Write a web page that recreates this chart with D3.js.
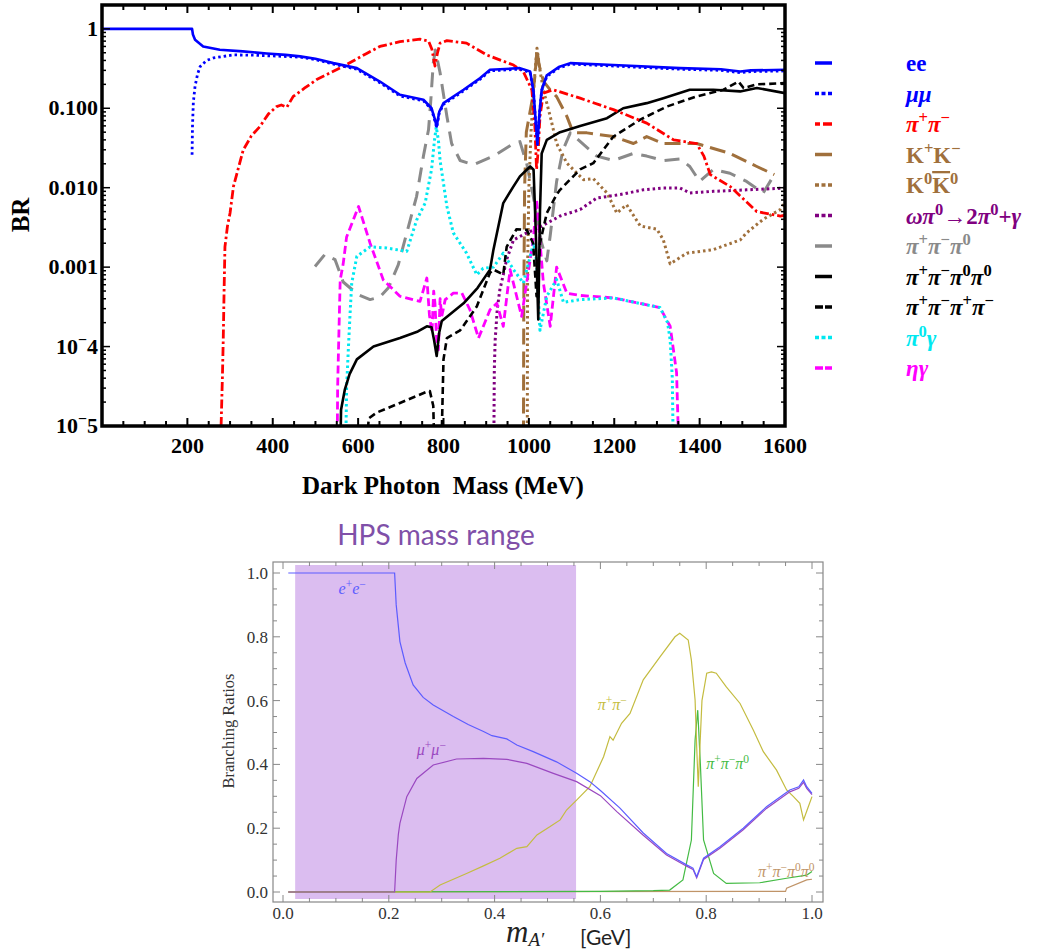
<!DOCTYPE html>
<html><head><meta charset="utf-8">
<script src="https://cdn.jsdelivr.net/npm/d3@7"></script>
<style>body{margin:0;background:#fff} svg{display:block}</style>
</head><body>
<svg id="c" width="1062" height="951"></svg>
<script>
// ---------------- TOP PANEL DATA (mass MeV, BR) ----------------
const topXTicks = [200,400,600,800,1000,1200,1400,1600];
const topYTicks = [1,0.1,0.01,0.001,1e-4,1e-5];
const topYTickLabels = ["1","0.100","0.010","0.001","10^−4","10^−5"];
const topXTitle = "Dark Photon  Mass (MeV)";
const topYTitle = "BR";

const eeTop = [[0,1],[211,1],[213,0.85],[218,0.73],[237,0.60],[276,0.545],[330,0.52],[386,0.49],[430,0.47],[464,0.45],[500,0.42],[542,0.37],[597,0.32],[651,0.217],[698,0.148],[753,0.128],[772,0.10],[779,0.075],[784,0.059],[790,0.09],[800,0.116],[847,0.171],[886,0.24],[909,0.305],[979,0.32],[1003,0.29],[1011,0.16],[1015,0.08],[1020,0.036],[1025,0.09],[1030,0.171],[1042,0.26],[1070,0.33],[1097,0.37],[1198,0.35],[1354,0.32],[1450,0.31],[1495,0.29],[1520,0.30],[1600,0.305]];
const mumuTop = [[211,0.026],[212,0.06],[214,0.12],[218,0.19],[224,0.27],[230,0.336],[245,0.40],[261,0.43],[308,0.47],[360,0.465],[425,0.45],[464,0.44],[500,0.41],[542,0.36],[597,0.31],[651,0.21],[698,0.143],[753,0.124],[772,0.097],[779,0.072],[784,0.057],[790,0.087],[800,0.112],[847,0.166],[886,0.233],[909,0.296],[979,0.311],[1003,0.282],[1011,0.155],[1015,0.078],[1020,0.035],[1025,0.087],[1030,0.166],[1042,0.252],[1070,0.32],[1097,0.36],[1198,0.34],[1354,0.31],[1450,0.30],[1495,0.28],[1520,0.29],[1600,0.295]];
const piPiTop = [[279,1e-5],[282,4e-5],[284,1.2e-4],[286,5e-4],[288,0.0018],[294,0.0033],[300,0.0048],[308,0.0104],[331,0.030],[350,0.045],[370,0.059],[390,0.085],[409,0.105],[420,0.11],[433,0.103],[448,0.141],[475,0.18],[503,0.23],[535,0.28],[565,0.336],[620,0.49],[651,0.60],[698,0.69],[745,0.74],[765,0.70],[773,0.55],[780,0.34],[786,0.50],[792,0.66],[808,0.71],[854,0.66],[901,0.47],[964,0.35],[987,0.29],[1007,0.17],[1014,0.06],[1018,0.017],[1022,0.03],[1026,0.079],[1034,0.155],[1057,0.171],[1120,0.134],[1198,0.096],[1276,0.065],[1339,0.040],[1393,0.036],[1410,0.025],[1425,0.0146],[1471,0.0104],[1534,0.0050],[1589,0.0044],[1600,0.0045]];
const kkTop = [[987,1e-6],[988,3e-4],[990,0.01],[994,0.05],[1000,0.075],[1008,0.13],[1014,0.25],[1019,0.54],[1024,0.35],[1034,0.22],[1050,0.17],[1065,0.14],[1089,0.079],[1104,0.049],[1136,0.049],[1198,0.044],[1245,0.036],[1276,0.044],[1315,0.036],[1393,0.036],[1471,0.027],[1534,0.0185],[1575,0.0146]];
const k0k0Top = [[996,1e-6],[997,1e-3],[1000,0.01],[1005,0.05],[1012,0.2],[1019,0.57],[1026,0.3],[1034,0.17],[1050,0.079],[1065,0.036],[1089,0.0204],[1128,0.0126],[1151,0.013],[1183,0.0086],[1206,0.0048],[1229,0.0061],[1261,0.0033],[1300,0.0030],[1315,0.0022],[1331,0.0011],[1370,0.0015],[1432,0.00166],[1495,0.0022],[1510,0.0027],[1549,0.004],[1589,0.0053],[1600,0.0065]];
const omegaPiTop = [[917,1e-6],[919,5e-5],[921,1.2e-4],[926,3e-4],[932,5.2e-4],[940,8e-4],[948,1.25e-3],[964,0.0022],[995,0.0027],[1026,0.0032],[1073,0.0044],[1120,0.0053],[1159,0.0074],[1214,0.0082],[1268,0.0094],[1315,0.0099],[1354,0.0099],[1377,0.0086],[1432,0.009],[1510,0.0094],[1600,0.0099]];
const piPiPi0Top = [[499,0.00102],[522,0.00144],[546,0.00124],[565,0.00065],[600,0.00045],[628,0.00039],[651,0.00042],[671,0.00055],[694,0.00107],[714,0.0027],[737,0.0078],[753,0.025],[765,0.054],[770,0.12],[776,0.37],[781,0.54],[792,0.28],[808,0.079],[819,0.036],[839,0.022],[870,0.0195],[917,0.025],[964,0.036],[979,0.038],[995,0.02],[1010,0.008],[1018,0.0044],[1030,0.002],[1042,0.0012],[1050,0.0025],[1065,0.012],[1080,0.03],[1097,0.049],[1159,0.025],[1198,0.022],[1245,0.027],[1276,0.025],[1315,0.022],[1354,0.023],[1377,0.0185],[1400,0.012],[1432,0.017],[1471,0.0152],[1510,0.012],[1549,0.0086],[1577,0.0152]];
const piPiPi0Pi0Top = [[556,1e-6],[560,1.6e-5],[569,2.9e-5],[580,4.5e-5],[597,6.9e-5],[636,1.0e-4],[698,1.28e-4],[740,1.55e-4],[761,1.8e-4],[772,1.75e-4],[778,1.2e-4],[784,7.6e-5],[790,1.5e-4],[796,2.1e-4],[847,3.5e-4],[880,5.5e-4],[909,9.3e-4],[917,1.66e-3],[932,0.004],[940,0.0064],[964,0.0104],[979,0.0139],[1003,0.0185],[1011,0.0168],[1016,0.003],[1022,2.2e-4],[1026,0.005],[1030,0.027],[1042,0.04],[1073,0.05],[1120,0.06],[1183,0.075],[1221,0.10],[1276,0.116],[1315,0.134],[1377,0.171],[1432,0.171],[1495,0.163],[1534,0.18],[1600,0.155]];
const piPiPiPiTop = [[608,1e-6],[625,1.25e-5],[643,1.47e-5],[698,1.95e-5],[761,2.7e-5],[768,2.75e-5],[776,1.8e-5],[782,1e-6],[792,1e-6],[800,6.9e-5],[808,1.28e-4],[839,1.6e-4],[878,3.2e-4],[909,8.5e-4],[917,9.3e-4],[940,8.1e-4],[948,1.8e-3],[971,3e-3],[995,2.95e-3],[1010,0.002],[1018,4.3e-4],[1026,0.002],[1042,4.8e-3],[1065,8.2e-3],[1073,9.4e-3],[1120,0.017],[1151,0.0204],[1198,0.044],[1261,0.072],[1323,0.105],[1393,0.141],[1456,0.171],[1491,0.217],[1503,0.18],[1534,0.20],[1600,0.207]];
const pi0GammaTop = [[569,1e-6],[573,3e-5],[577,9.1e-5],[581,2.5e-4],[585,6.3e-4],[597,1.37e-3],[628,1.8e-3],[667,1.74e-3],[714,1.58e-3],[737,3.9e-3],[757,6.4e-3],[772,0.017],[779,0.04],[783,0.058],[788,0.04],[792,0.022],[808,5.8e-3],[823,2.7e-3],[854,1.5e-3],[878,8e-4],[893,9.7e-4],[917,1.0e-3],[940,1.5e-3],[964,9.3e-4],[987,6.3e-4],[1011,2e-3],[1018,1.2e-3],[1026,1.6e-4],[1042,4.3e-4],[1065,7e-4],[1081,3.6e-4],[1120,3.9e-4],[1198,4.1e-4],[1307,3.1e-4],[1325,2e-4],[1331,1.2e-4],[1336,4e-5],[1340,1e-6]];
const etaGammaTop = [[550,1e-6],[552,3e-5],[554,9e-5],[558,6.9e-4],[565,1.1e-3],[573,2.4e-3],[601,5.8e-3],[628,2e-3],[659,6.9e-4],[698,4.3e-4],[745,3.7e-4],[761,7.3e-4],[767,2.5e-4],[773,1.5e-4],[777,5e-4],[780,3.5e-4],[784,1.2e-4],[788,9.1e-5],[792,4e-4],[796,2.4e-4],[804,3.9e-4],[823,4.7e-4],[843,4.7e-4],[862,2.9e-4],[882,1.28e-4],[909,2.9e-4],[925,3.5e-4],[940,1.8e-4],[956,9.3e-4],[983,2.4e-4],[1011,2.4e-3],[1018,7.1e-3],[1034,6.3e-4],[1050,1.8e-4],[1065,1.0e-3],[1089,4.7e-4],[1120,4.4e-4],[1198,4.1e-4],[1307,3.1e-4],[1331,1.8e-4],[1346,4.7e-5],[1355,1e-6]];

const legendLabels = ["ee","μμ","π^+π^−","K^+K^−","K^0~K^0","ωπ^0→2π^0+γ","π^+π^−π^0","π^+π^−π^0π^0","π^+π^−π^+π^−","π^0γ","ηγ"];

// ---------------- BOTTOM PANEL DATA (mass GeV, BR) ----------------
const botTitle = "HPS mass range";
const botXTicks = [0,0.2,0.4,0.6,0.8,1.0];
const botYTicks = [0,0.2,0.4,0.6,0.8,1.0];
const botYTitle = "Branching Ratios";
const hpsRange = [0.023, 0.554];
const eeBot = [[0.01,1],[0.211,1],[0.214,0.90],[0.221,0.785],[0.231,0.718],[0.246,0.649],[0.265,0.61],[0.284,0.586],[0.322,0.55],[0.35,0.525],[0.379,0.503],[0.395,0.49],[0.423,0.48],[0.442,0.461],[0.473,0.44],[0.517,0.408],[0.555,0.372],[0.580,0.346],[0.600,0.318],[0.637,0.263],[0.681,0.185],[0.725,0.121],[0.763,0.085],[0.775,0.075],[0.782,0.048],[0.795,0.106],[0.826,0.142],[0.870,0.200],[0.914,0.267],[0.958,0.320],[0.975,0.33],[0.984,0.351],[0.99,0.33],[1.0,0.309]];
const mumuBot = [[0.01,0],[0.211,0],[0.214,0.10],[0.218,0.18],[0.221,0.215],[0.234,0.299],[0.253,0.356],[0.284,0.398],[0.328,0.417],[0.379,0.419],[0.423,0.416],[0.461,0.403],[0.511,0.372],[0.555,0.346],[0.600,0.302],[0.631,0.252],[0.681,0.178],[0.725,0.116],[0.763,0.081],[0.775,0.071],[0.782,0.044],[0.795,0.102],[0.826,0.137],[0.870,0.195],[0.914,0.262],[0.958,0.314],[0.975,0.325],[0.984,0.344],[0.99,0.325],[1.0,0.305]];
const piPiBot = [[0.01,0],[0.278,0],[0.297,0.022],[0.347,0.058],[0.379,0.082],[0.41,0.106],[0.442,0.137],[0.461,0.142],[0.48,0.179],[0.505,0.205],[0.524,0.226],[0.536,0.257],[0.555,0.288],[0.58,0.33],[0.606,0.424],[0.618,0.487],[0.624,0.476],[0.64,0.529],[0.656,0.56],[0.681,0.665],[0.713,0.738],[0.741,0.800],[0.75,0.811],[0.766,0.79],[0.772,0.727],[0.779,0.602],[0.782,0.455],[0.785,0.33],[0.788,0.45],[0.792,0.6],[0.801,0.686],[0.810,0.690],[0.819,0.686],[0.838,0.643],[0.864,0.591],[0.889,0.508],[0.908,0.44],[0.933,0.382],[0.952,0.320],[0.965,0.299],[0.977,0.278],[0.984,0.226],[0.993,0.267],[1.0,0.299]];
const piPiPi0Bot = [[0.01,0],[0.6,0.002],[0.7,0.004],[0.731,0.006],[0.756,0.038],[0.772,0.163],[0.779,0.476],[0.784,0.57],[0.789,0.4],[0.795,0.163],[0.814,0.058],[0.838,0.027],[0.901,0.029],[0.952,0.043],[0.99,0.053],[1.0,0.064]];
const piPiPi0Pi0Bot = [[0.01,0],[0.95,0.002],[0.952,0.012],[0.99,0.038],[1.0,0.04]];
const botLabels = [
  {text:"e^+e^−", m:0.105, v:0.935},
  {text:"μ^+μ^−", m:0.253, v:0.43},
  {text:"π^+π^−", m:0.595, v:0.57},
  {text:"π^+π^−π^0", m:0.80, v:0.385},
  {text:"π^+π^−π^0π^0", m:0.898, v:0.047}
];

// ---------------- helpers ----------------
const svg = d3.select("#c");
const serif = "'Liberation Serif','Times New Roman',serif";
const isGreek = c => /[\u0370-\u03FF]/.test(c);
function richText(sel, str, size, opts) {
  opts = opts || {};
  let i = 0, shifted = false, over = false;
  const sup = Math.round(size*0.4);
  while (i < str.length) {
    let c = str[i];
    if (c === '~') { over = true; i++; continue; }
    if (c === '^') {
      const ch = str[i+1];
      const t = sel.append("tspan").text(ch).attr("font-size", size*0.72).attr("font-style","normal");
      if (!shifted) { t.attr("dy", -sup); shifted = true; }
      i += 2; continue;
    }
    const t = sel.append("tspan").text(c);
    if (shifted) { t.attr("dy", sup); shifted = false; }
    if (opts.greekItalic && isGreek(c)) t.attr("font-style","italic");
    if (over) { t.style("text-decoration","overline"); over = false; }
    i++;
  }
}

// ---------------- TOP PANEL ----------------
const tx = d3.scaleLinear().domain([0,1600]).range([102,785]);
const ty = d3.scaleLog().domain([1e-5, Math.pow(10,0.3)]).range([426,5]);
const gT = svg.append("g");
gT.append("clipPath").attr("id","clipT").append("rect")
  .attr("x",tx(0)).attr("y",ty.range()[1]).attr("width",tx(1600)-tx(0)).attr("height",ty.range()[0]-ty.range()[1]);

const topSeries = [
  {data:eeTop, color:"#0000ff", dash:null, w:2.6},
  {data:mumuTop, color:"#0000ff", dash:"2.5,3", w:2.8},
  {data:piPiTop, color:"#ff0000", dash:"9,3,2.5,3", w:2.8},
  {data:kkTop, color:"#a0703c", dash:"16,7", w:3},
  {data:k0k0Top, color:"#a0703c", dash:"2.5,3", w:3},
  {data:omegaPiTop, color:"#800080", dash:"2.5,3", w:3},
  {data:piPiPi0Top, color:"#8a8a8a", dash:"15,9", w:3},
  {data:piPiPi0Pi0Top, color:"#000000", dash:null, w:2.6},
  {data:piPiPiPiTop, color:"#000000", dash:"7,4", w:2.6},
  {data:pi0GammaTop, color:"#00e8f0", dash:"2.5,3", w:3},
  {data:etaGammaTop, color:"#ff00ff", dash:"8,4", w:2.8}
];
const lineT = d3.line().x(d=>tx(d[0])).y(d=>ty(Math.max(d[1],1e-7)));
const drawOrder = [6,3,4,5,10,9,8,7,2,1,0];
const gLines = gT.append("g").attr("clip-path","url(#clipT)");
drawOrder.forEach(k => {
  const s = topSeries[k];
  gLines.append("path").attr("d", lineT(s.data)).attr("fill","none")
    .attr("stroke", s.color).attr("stroke-width", s.w)
    .attr("stroke-dasharray", s.dash).attr("stroke-linejoin","round");
});

// ticks top panel
const tMinorX = d3.range(50,1600,50);
tMinorX.forEach(v => {
  const major = v % 200 === 0; const L = major ? 8 : 5;
  gT.append("line").attr("x1",tx(v)).attr("x2",tx(v)).attr("y1",426).attr("y2",426-L).attr("stroke","#000").attr("stroke-width",2);
  gT.append("line").attr("x1",tx(v)).attr("x2",tx(v)).attr("y1",5).attr("y2",5+L).attr("stroke","#000").attr("stroke-width",2);
});
const tMinorY = [];
for (let e=-5; e<=0; e++) for (let k=1; k<=9; k++) { const v=k*Math.pow(10,e); if (v<=Math.pow(10,0.3)) tMinorY.push([v,k===1]); }
tMinorY.push([2,false]);
tMinorY.forEach(([v,major]) => {
  const L = major ? 8 : 4;
  gT.append("line").attr("x1",102).attr("x2",102+L).attr("y1",ty(v)).attr("y2",ty(v)).attr("stroke","#000").attr("stroke-width",1.5);
  gT.append("line").attr("x1",785).attr("x2",785-L).attr("y1",ty(v)).attr("y2",ty(v)).attr("stroke","#000").attr("stroke-width",1.5);
});
gT.append("rect").attr("x",102).attr("y",5).attr("width",683).attr("height",421)
  .attr("fill","none").attr("stroke","#000").attr("stroke-width",3.5);

topXTicks.forEach(v => {
  gT.append("text").attr("x",tx(v)).attr("y",453).attr("text-anchor","middle")
    .attr("font-family",serif).attr("font-weight","bold").attr("font-size",22).text(String(v));
});
topYTicks.forEach((v,i) => {
  const t = gT.append("text").attr("x",98).attr("y",ty(v)+7).attr("text-anchor","end")
    .attr("font-family",serif).attr("font-weight","bold").attr("font-size",22);
  richText(t, topYTickLabels[i], 22);
});
gT.append("text").attr("x",443).attr("y",494).attr("text-anchor","middle").style("white-space","pre")
  .attr("font-family",serif).attr("font-weight","bold").attr("font-size",25).text(topXTitle);
gT.append("text").attr("transform","translate(29,215) rotate(-90)").attr("text-anchor","middle")
  .attr("font-family",serif).attr("font-weight","bold").attr("font-size",25).text(topYTitle);

// legend
legendLabels.forEach((lab,i) => {
  const s = topSeries[i]; const y = 63 + i*30.5;
  gT.append("line").attr("x1",815).attr("x2",832).attr("y1",y).attr("y2",y)
    .attr("stroke",s.color).attr("stroke-width",3.5)
    .attr("stroke-dasharray", s.dash ? (s.dash.split(",").length>2 ? "5,3,9,3" : (parseFloat(s.dash)>10? null : (parseFloat(s.dash)>5?"8,2":"4,2.5"))) : null);
  const t = gT.append("text").attr("x",906).attr("y",y+8).attr("font-family",serif)
    .attr("font-weight","bold").attr("font-size",23).attr("fill",s.color);
  richText(t, lab, 23, {greekItalic:true});
});

// ---------------- BOTTOM PANEL ----------------
const bx = d3.scaleLinear().domain([0,1]).range([283,812]);
const by = d3.scaleLinear().domain([0,1]).range([892,573]);
const gB = svg.append("g");
const frame = {x0:273, x1:823, y0:562, y1:902};
gB.append("rect").attr("x",bx(hpsRange[0])).attr("y",565).attr("width",bx(hpsRange[1])-bx(hpsRange[0])).attr("height",899-565)
  .attr("fill","#dbbdf0");
const lineB = d3.line().x(d=>bx(d[0])).y(d=>by(d[1]));
const botSeries = [
  {data:piPiPi0Pi0Bot, color:"#c09468"},
  {data:piPiPi0Bot, color:"#44bb44"},
  {data:piPiBot, color:"#c4bc40"},
  {data:mumuBot, color:"#9a48c0"},
  {data:eeBot, color:"#5c5cff"}
];
botSeries.forEach(s => {
  gB.append("path").attr("d", lineB(s.data)).attr("fill","none").attr("stroke",s.color).attr("stroke-width",1.2);
});
// frame & ticks
gB.append("rect").attr("x",frame.x0).attr("y",frame.y0).attr("width",frame.x1-frame.x0).attr("height",frame.y1-frame.y0)
  .attr("fill","none").attr("stroke","#888").attr("stroke-width",1.2);
d3.range(0,1.0001,0.05).forEach(v => {
  const major = Math.abs(v*5 - Math.round(v*5)) < 1e-6; const L = major ? 7 : 4;
  const X = bx(v), Y = by(v);
  gB.append("line").attr("x1",X).attr("x2",X).attr("y1",frame.y1).attr("y2",frame.y1-L).attr("stroke","#888");
  gB.append("line").attr("x1",X).attr("x2",X).attr("y1",frame.y0).attr("y2",frame.y0+L).attr("stroke","#888");
  gB.append("line").attr("x1",frame.x0).attr("x2",frame.x0+L).attr("y1",Y).attr("y2",Y).attr("stroke","#888");
  gB.append("line").attr("x1",frame.x1).attr("x2",frame.x1-L).attr("y1",Y).attr("y2",Y).attr("stroke","#888");
});
botXTicks.forEach(v => {
  gB.append("text").attr("x",bx(v)).attr("y",919).attr("text-anchor","middle").attr("font-family",serif)
    .attr("font-size",17).attr("fill","#333").text(v.toFixed(1));
});
botYTicks.forEach(v => {
  gB.append("text").attr("x",268).attr("y",by(v)+6).attr("text-anchor","end").attr("font-family",serif)
    .attr("font-size",17).attr("fill","#333").text(v.toFixed(1));
});
gB.append("text").attr("transform","translate(234,731) rotate(-90)").attr("text-anchor","middle")
  .attr("font-family",serif).attr("font-size",16.5).attr("fill","#333").text(botYTitle);
gB.append("text").attr("x",436).attr("y",545).attr("text-anchor","middle").attr("font-family","Lato,'Open Sans',sans-serif")
  .attr("font-size",28).attr("fill","#8050a8").text(botTitle);
// x axis title
const xt = gB.append("text").attr("x",506).attr("y",942).attr("font-family",serif).attr("fill","#222");
xt.append("tspan").attr("font-style","italic").attr("font-size",31).text("m");
xt.append("tspan").attr("font-style","italic").attr("font-size",19).attr("dy",4).text("A′");
gB.append("text").attr("x",580).attr("y",945).attr("font-family","Lato,'Open Sans',sans-serif").attr("font-size",21).attr("fill","#222").text("[GeV]");
// labels
const labColors = ["#5c5cff","#9a48c0","#c4bc40","#44bb44","#c09468"];
botLabels.forEach((l,i) => {
  const t = gB.append("text").attr("x",bx(l.m)).attr("y",by(l.v)).attr("font-family",serif)
    .attr("font-style","italic").attr("font-size",16).attr("fill",labColors[i]);
  richText(t, l.text, 16);
});
</script>
</body></html>
